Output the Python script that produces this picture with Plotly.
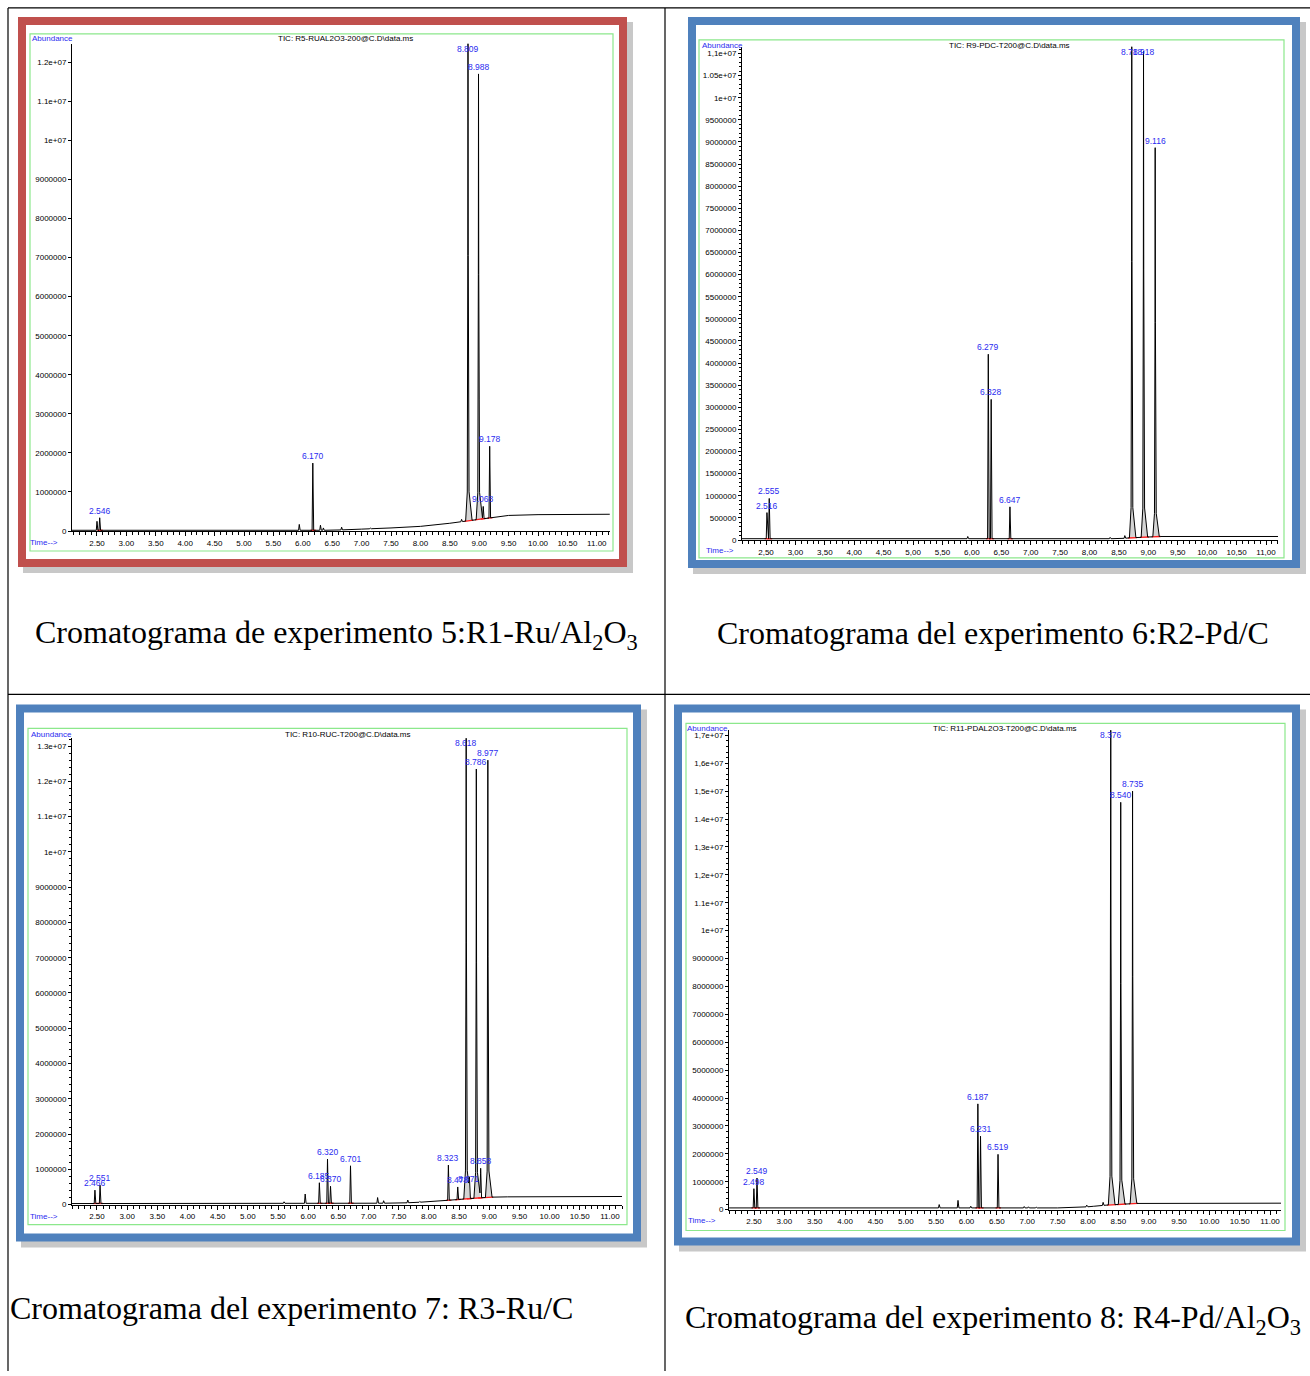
import numpy as np
import plotly.graph_objects as go

W, H = 1310, 1376

# ------------------------------------------------------------------ data
XTICK_VALS = [2.5, 3.0, 3.5, 4.0, 4.5, 5.0, 5.5, 6.0, 6.5, 7.0, 7.5, 8.0, 8.5, 9.0, 9.5, 10.0, 10.5, 11.0]
XTICK_DOT = ["2.50", "3.00", "3.50", "4.00", "4.50", "5.00", "5.50", "6.00", "6.50", "7.00", "7.50",
             "8.00", "8.50", "9.00", "9.50", "10.00", "10.50", "11.00"]
XTICK_COMMA = ["2,50", "3,00", "3,50", "4,00", "4,50", "5,00", "5,50", "6,00", "6,50", "7,00", "7,50",
               "8,00", "8,50", "9,00", "9,50", "10,00", "10,50", "11,00"]

# Panel 1: R5-RUAL2O3-200 (experiment 5, Ru/Al2O3)
P1_YTICK_VALS = [0, 1e6, 2e6, 3e6, 4e6, 5e6, 6e6, 7e6, 8e6, 9e6, 1e7, 1.1e7, 1.2e7]
P1_YTICK_TEXT = ["0", "1000000", "2000000", "3000000", "4000000", "5000000", "6000000", "7000000",
                 "8000000", "9000000", "1e+07", "1.1e+07", "1.2e+07"]
P1_BASE_T = [2.07, 6.5, 7.0, 7.5, 8.0, 8.5, 9.0, 9.5, 10.0, 11.22]
P1_BASE_Y = [20000, 20000, 50000, 80000, 120000, 200000, 300000, 400000, 420000, 430000]
P1_RT = [2.500, 2.546, 5.940, 6.170, 6.300, 6.350, 6.660, 7.150, 8.700, 8.809, 8.988, 9.068, 9.178]
P1_H = [250000, 340000, 170000, 1740000, 150000, 80000, 100000, 80000, 300000, 12600000, 11700000, 630000, 2170000]
P1_LAB = ["", "2.546", "", "6.170", "", "", "", "", "", "8.809", "8.988", "9.068", "9.178"]
P1_BIG = [0, 0, 0, 0, 0, 0, 0, 0, 0, 1, 1, 0, 0]

# Panel 2: R9-PDC-T200 (experiment 6, Pd/C)
P2_YTICK_VALS = [0, 5e5, 1e6, 1.5e6, 2e6, 2.5e6, 3e6, 3.5e6, 4e6, 4.5e6, 5e6, 5.5e6, 6e6, 6.5e6, 7e6,
                 7.5e6, 8e6, 8.5e6, 9e6, 9.5e6, 1e7, 1.05e7, 1.1e7]
P2_YTICK_TEXT = ["0", "500000", "1000000", "1500000", "2000000", "2500000", "3000000", "3500000",
                 "4000000", "4500000", "5000000", "5500000", "6000000", "6500000", "7000000", "7500000",
                 "8000000", "8500000", "9000000", "9500000", "1e+07", "1.05e+07", "1,1e+07"]
P2_BASE_T = [2.09, 8.5, 8.7, 9.2, 11.21]
P2_BASE_Y = [30000, 30000, 50000, 80000, 80000]
P2_RT = [2.516, 2.555, 5.930, 6.279, 6.328, 6.647, 8.350, 8.600, 8.718, 8.918, 9.116]
P2_H = [620000, 940000, 80000, 4200000, 3180000, 750000, 60000, 100000, 11400000, 11050000, 8870000]
P2_LAB = ["2.516", "2.555", "", "6.279", "6.328", "6.647", "", "", "8.718", "8.918", "9.116"]
P2_BIG = [0, 0, 0, 0, 0, 0, 0, 0, 1, 1, 1]

# Panel 3: R10-RUC-T200 (experiment 7, Ru/C)
P3_YTICK_VALS = [0, 1e6, 2e6, 3e6, 4e6, 5e6, 6e6, 7e6, 8e6, 9e6, 1e7, 1.1e7, 1.2e7, 1.3e7]
P3_YTICK_TEXT = ["0", "1000000", "2000000", "3000000", "4000000", "5000000", "6000000", "7000000",
                 "8000000", "9000000", "1e+07", "1.1e+07", "1.2e+07", "1.3e+07"]
P3_BASE_T = [2.08, 7.5, 8.0, 8.3, 8.6, 9.0, 9.3, 11.2]
P3_BASE_Y = [30000, 40000, 80000, 120000, 160000, 210000, 220000, 230000]
P3_RT = [2.466, 2.551, 5.600, 5.950, 6.185, 6.320, 6.370, 6.701, 7.150, 7.250, 7.650, 7.850,
         8.323, 8.478, 8.618, 8.671, 8.786, 8.858, 8.977]
P3_H = [410000, 550000, 80000, 300000, 620000, 1290000, 520000, 1100000, 200000, 110000, 130000, 90000,
        1120000, 500000, 13400000, 530000, 12350000, 1030000, 12600000]
P3_LAB = ["2.466", "2.551", "", "", "6.185", "6.320", "6.370", "6.701", "", "", "", "",
          "8.323", "8.478", "8.618", "8.671", "8.786", "8.858", "8.977"]
P3_BIG = [0, 0, 0, 0, 0, 0, 0, 0, 0, 0, 0, 0, 0, 0, 1, 0, 1, 0, 1]

# Panel 4: R11-PDAL2O3-T200 (experiment 8, Pd/Al2O3)
P4_YTICK_VALS = [0, 1e6, 2e6, 3e6, 4e6, 5e6, 6e6, 7e6, 8e6, 9e6, 1e7, 1.1e7, 1.2e7, 1.3e7, 1.4e7,
                 1.5e7, 1.6e7, 1.7e7]
P4_YTICK_TEXT = ["0", "1000000", "2000000", "3000000", "4000000", "5000000", "6000000", "7000000",
                 "8000000", "9000000", "1e+07", "1.1e+07", "1,2e+07", "1,3e+07", "1.4e+07",
                 "1,5e+07", "1,6e+07", "1,7e+07"]
P4_BASE_T = [2.09, 7.5, 8.0, 8.3, 8.8, 11.18]
P4_BASE_Y = [60000, 60000, 100000, 160000, 220000, 230000]
P4_RT = [2.498, 2.549, 5.550, 5.860, 6.070, 6.187, 6.231, 6.519, 6.950, 7.020, 7.150, 7.600,
         7.980, 8.100, 8.250, 8.376, 8.540, 8.735]
P4_H = [750000, 1130000, 180000, 330000, 120000, 3790000, 2630000, 1980000, 110000, 100000, 90000, 80000,
        160000, 130000, 260000, 17300000, 14600000, 15000000]
P4_LAB = ["2.498", "2.549", "", "", "", "6.187", "6.231", "6.519", "", "", "", "",
          "", "", "", "8.376", "8.540", "8.735"]
P4_BIG = [0, 0, 0, 0, 0, 0, 0, 0, 0, 0, 0, 0, 0, 0, 0, 1, 1, 1]

TIC_TITLES = ["TIC: R5-RUAL2O3-200@C.D\\data.ms", "TIC: R9-PDC-T200@C.D\\data.ms",
              "TIC: R10-RUC-T200@C.D\\data.ms", "TIC: R11-PDAL2O3-T200@C.D\\data.ms"]
CAPTIONS = ["Cromatograma de experimento 5:R1-Ru/Al<sub>2</sub>O<sub>3</sub>",
            "Cromatograma del experimento 6:R2-Pd/C",
            "Cromatograma del experimento 7: R3-Ru/C",
            "Cromatograma del experimento 8: R4-Pd/Al<sub>2</sub>O<sub>3</sub>"]

# ------------------------------------------------------------------ layout geometry (pixels)
RED = "#C0504D"
BLUE = "#4F81BD"
GREEN = "#8CE88C"
LABEL_BLUE = "#2B2BF0"
SANS = "Liberation Sans, Arial, sans-serif"
SERIF = "Liberation Serif, Times New Roman, serif"

PANELS = [
    dict(bt=P1_BASE_T, by=P1_BASE_Y, rt=P1_RT, h=P1_H, lab=P1_LAB, big=P1_BIG,
         yv=P1_YTICK_VALS, ytx=P1_YTICK_TEXT, xtx=XTICK_DOT, yminor=None,
         axpx=(72, 610), aypx=(44, 533), xr=(2.075, 11.224), ymax=12.47e6,
         frame=(18, 17, 627, 569), fcol=RED, green=(30, 34, 613, 553),
         abund=(52, 39), tic=(345, 39), time=(44, 544)),
    dict(bt=P2_BASE_T, by=P2_BASE_Y, rt=P2_RT, h=P2_H, lab=P2_LAB, big=P2_BIG,
         yv=P2_YTICK_VALS, ytx=P2_YTICK_TEXT, xtx=XTICK_COMMA, yminor=100000,
         axpx=(742, 1278), aypx=(47, 542), xr=(2.092, 11.204), ymax=11.15e6,
         frame=(688, 17, 1300, 570), fcol=BLUE, green=(699, 40, 1284, 560),
         abund=(722, 46), tic=(1010, 46), time=(720, 553)),
    dict(bt=P3_BASE_T, by=P3_BASE_Y, rt=P3_RT, h=P3_H, lab=P3_LAB, big=P3_BIG,
         yv=P3_YTICK_VALS, ytx=P3_YTICK_TEXT, xtx=XTICK_DOT, yminor=200000,
         axpx=(72, 622), aypx=(741, 1209), xr=(2.086, 11.2), ymax=13.22e6,
         frame=(16, 707, 641, 1246), fcol=BLUE, green=(28, 731, 627, 1229),
         abund=(51, 737), tic=(347, 737), time=(44, 1221)),
    dict(bt=P4_BASE_T, by=P4_BASE_Y, rt=P4_RT, h=P4_H, lab=P4_LAB, big=P4_BIG,
         yv=P4_YTICK_VALS, ytx=P4_YTICK_TEXT, xtx=XTICK_DOT, yminor=200000,
         axpx=(729, 1281), aypx=(733, 1214), xr=(2.088, 11.18), ymax=17.18e6,
         frame=(674, 707, 1300, 1250), fcol=BLUE, green=(686, 726, 1285, 1235),
         abund=(708, 731), tic=(1005, 731), time=(702, 1225)),
]

# peak shape (style) : offsets in minutes and fraction of peak height
SMALL_OFF = np.array([-0.012, 0.0, 0.015])
SMALL_FR = np.array([0.0, 1.0, 0.0])
BIG_OFF = np.array([-0.04, -0.012, -0.003, 0.0, 0.004, 0.018, 0.07])
BIG_FR = np.array([0.0, 0.06, 0.55, 1.0, 0.55, 0.06, 0.0])


def fx(x):
    return x / W


def fy(y):
    return 1 - y / H


fig = go.Figure()
shapes = []
annotations = []

# table lines
for (x0, y0, x1, y1) in [(8, 8, 1310, 8), (8, 8, 8, 1376), (665, 8, 665, 1376), (8, 697, 1310, 697)]:
    shapes.append(dict(type="line", xref="paper", yref="paper", x0=fx(x0), y0=fy(y0), x1=fx(x1), y1=fy(y1),
                       line=dict(color="black", width=1.2), layer="below"))

for i, p in enumerate(PANELS):
    n = i + 1
    xa = "x" if n == 1 else f"x{n}"
    ya = "y" if n == 1 else f"y{n}"
    fl, ft, fr_, fb = p["frame"]
    # shadow
    shapes.append(dict(type="rect", xref="paper", yref="paper", x0=fx(fl + 5), y0=fy(fb + 6), x1=fx(fr_ + 6),
                       y1=fy(ft + 5), fillcolor="#9A9A9A", opacity=0.55, line=dict(width=0), layer="below"))
    # frame
    shapes.append(dict(type="rect", xref="paper", yref="paper", x0=fx(fl), y0=fy(fb), x1=fx(fr_), y1=fy(ft),
                       fillcolor=p["fcol"], line=dict(width=0), layer="below"))
    shapes.append(dict(type="rect", xref="paper", yref="paper", x0=fx(fl + 8), y0=fy(fb - 8), x1=fx(fr_ - 8),
                       y1=fy(ft + 8), fillcolor="white", line=dict(width=0), layer="below"))
    gl, gt, gr, gb = p["green"]
    shapes.append(dict(type="rect", xref="paper", yref="paper", x0=fx(gl), y0=fy(gb), x1=fx(gr), y1=fy(gt),
                       line=dict(color=GREEN, width=1.2), fillcolor="rgba(0,0,0,0)", layer="below"))

    bt = np.array(p["bt"], dtype=float)
    by = np.array(p["by"], dtype=float)
    rts = np.array(p["rt"], dtype=float)
    hs = np.array(p["h"], dtype=float)

    # build chromatogram trace: baseline + sum of peak shapes
    xs = list(bt)
    for rt, big in zip(rts, p["big"]):
        off = BIG_OFF if big else SMALL_OFF
        xs.extend(list(rt + off))
    xs = np.unique(np.array(xs))
    ys = np.interp(xs, bt, by)
    for rt, hh, big in zip(rts, hs, p["big"]):
        off = BIG_OFF if big else SMALL_OFF
        frc = BIG_FR if big else SMALL_FR
        b = np.interp(rt, bt, by)
        ys = ys + np.interp(xs, rt + off, frc * (hh - b), left=0, right=0)

    # gray fill of major peaks
    for rt, hh, big in zip(rts, hs, p["big"]):
        if not big:
            continue
        b = np.interp(rt, bt, by)
        fig.add_trace(go.Scatter(x=list(rt + BIG_OFF), y=list(b + BIG_FR * (hh - b)), mode="lines",
                                 fill="toself", fillcolor="#D4D4D4", line=dict(width=0),
                                 xaxis=xa, yaxis=ya, showlegend=False, hoverinfo="skip"))

    # red integration baselines
    rx, ry = [], []
    for rt, lab, big in zip(rts, p["lab"], p["big"]):
        if not lab:
            continue
        lo, hi = (rt - 0.06, rt + 0.09) if big else (rt - 0.04, rt + 0.05)
        rx += [lo, hi, None]
        ry += [np.interp(lo, bt, by), np.interp(hi, bt, by), None]
    fig.add_trace(go.Scatter(x=rx, y=ry, mode="lines", line=dict(color="#FF1A1A", width=1.3),
                             xaxis=xa, yaxis=ya, showlegend=False, hoverinfo="skip"))

    fig.add_trace(go.Scatter(x=xs, y=ys, mode="lines", line=dict(color="black", width=1),
                             xaxis=xa, yaxis=ya, showlegend=False))

    # peak labels
    for rt, hh, lab in zip(rts, hs, p["lab"]):
        if not lab:
            continue
        annotations.append(dict(x=rt, y=min(hh, p["ymax"] * 0.975), xref=xa, yref=ya, text=lab,
                                showarrow=False, yanchor="bottom", yshift=0,
                                font=dict(family=SANS, size=8.5, color=LABEL_BLUE)))

    ax0, ax1 = p["axpx"]
    ay0, ay1 = p["aypx"]
    xkey = "xaxis" if n == 1 else f"xaxis{n}"
    ykey = "yaxis" if n == 1 else f"yaxis{n}"
    xaxis = dict(domain=[fx(ax0), fx(ax1)], range=list(p["xr"]), anchor=ya,
                 tickmode="array", tickvals=XTICK_VALS, ticktext=p["xtx"],
                 ticks="outside", ticklen=4, tickcolor="black", tickwidth=1,
                 showline=True, linecolor="black", linewidth=1, showgrid=False, zeroline=False,
                 tickfont=dict(family=SANS, size=8, color="black"),
                 minor=dict(tickmode="linear", tick0=2.0, dtick=0.1, ticks="outside", ticklen=3,
                            tickcolor="black", showgrid=False))
    yaxis = dict(domain=[fy(ay1), fy(ay0)], range=[0, p["ymax"]], anchor=xa,
                 tickmode="array", tickvals=p["yv"], ticktext=p["ytx"],
                 ticks="outside", ticklen=3, tickcolor="black", tickwidth=1,
                 showline=True, linecolor="black", linewidth=1, showgrid=False, zeroline=False,
                 tickfont=dict(family=SANS, size=8, color="black"))
    if p["yminor"]:
        yaxis["minor"] = dict(tickmode="linear", tick0=0, dtick=p["yminor"], ticks="outside", ticklen=2,
                              tickcolor="black", showgrid=False)
    fig.update_layout(**{xkey: xaxis, ykey: yaxis})

    # header / footer texts
    annotations.append(dict(x=fx(p["abund"][0]), y=fy(p["abund"][1]), xref="paper", yref="paper",
                            text="Abundance", showarrow=False, xanchor="center", yanchor="middle",
                            font=dict(family=SANS, size=8, color=LABEL_BLUE)))
    annotations.append(dict(x=fx(p["tic"][0]), y=fy(p["tic"][1]), xref="paper", yref="paper",
                            text=TIC_TITLES[i], showarrow=False, xanchor="center", yanchor="middle",
                            font=dict(family=SANS, size=8, color="black")))
    annotations.append(dict(x=fx(p["time"][0]), y=fy(p["time"][1]), xref="paper", yref="paper",
                            text="Time-->", showarrow=False, xanchor="center", yanchor="middle",
                            font=dict(family=SANS, size=8, color=LABEL_BLUE)))

# captions
CAP_POS = [(336, 637, "center"), (993, 635, "center"), (8, 1313, "left"), (993, 1324, "center")]
for cap, (cx, cy, anc) in zip(CAPTIONS, CAP_POS):
    annotations.append(dict(x=fx(cx), y=fy(cy), xref="paper", yref="paper", text=cap, showarrow=False,
                            xanchor=anc, yanchor="middle", font=dict(family=SERIF, size=32, color="black")))

fig.update_layout(width=W, height=H, margin=dict(l=0, r=0, t=0, b=0), paper_bgcolor="white",
                  plot_bgcolor="rgba(0,0,0,0)", shapes=shapes, annotations=annotations, showlegend=False)

fig.write_html("out.html")
